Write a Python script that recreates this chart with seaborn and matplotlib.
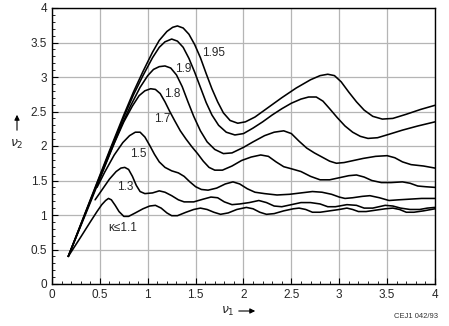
import matplotlib
matplotlib.use("Agg")
import matplotlib.pyplot as plt
import seaborn as sns
import pandas as pd
from matplotlib.ticker import MultipleLocator

# ---- data (nu1, nu2) ----
K11 = [(0.17,0.40),(0.30,0.68),(0.40,0.90),(0.47,1.05),(0.52,1.15),(0.56,1.21),(0.59,1.24),(0.62,1.22),
       (0.66,1.14),(0.70,1.05),(0.75,0.98),(0.80,0.98),(0.87,1.03),(0.95,1.09),(1.02,1.13),(1.08,1.14),
       (1.14,1.10),(1.20,1.03),(1.25,0.99),(1.31,0.99),(1.40,1.04),(1.48,1.08),(1.55,1.10),(1.62,1.08),
       (1.69,1.04),(1.76,1.01),(1.84,1.03),(1.93,1.08),(2.03,1.11),(2.10,1.09),(2.17,1.04),(2.24,1.01),
       (2.32,1.02),(2.42,1.06),(2.52,1.09),(2.58,1.10),(2.65,1.08),(2.72,1.04),(2.80,1.04),(2.90,1.06),
       (3.00,1.08),(3.08,1.10),(3.14,1.08),(3.20,1.05),(3.28,1.05),(3.38,1.07),(3.48,1.09),(3.56,1.10),
       (3.63,1.08),(3.70,1.04),(3.78,1.04),(3.88,1.06),(4.00,1.09)]
K13 = [(0.45,1.22),(0.52,1.36),(0.60,1.52),(0.67,1.63),(0.72,1.68),(0.76,1.69),(0.80,1.66),(0.84,1.56),
       (0.88,1.43),(0.92,1.34),(0.97,1.31),(1.05,1.32),(1.12,1.35),(1.18,1.33),(1.25,1.28),(1.32,1.22),
       (1.38,1.19),(1.48,1.19),(1.58,1.23),(1.66,1.26),(1.73,1.25),(1.80,1.19),(1.88,1.15),(1.96,1.16),
       (2.06,1.18),(2.16,1.21),(2.24,1.18),(2.32,1.13),(2.40,1.12),(2.50,1.15),(2.60,1.18),(2.70,1.18),
       (2.80,1.16),(2.88,1.12),(2.96,1.12),(3.08,1.15),(3.18,1.14),(3.26,1.10),(3.35,1.10),(3.48,1.14),
       (3.56,1.13),(3.64,1.10),(3.74,1.08),(3.84,1.08),(3.92,1.10),(4.00,1.11)]
K15 = [(0.47,1.40),(0.55,1.62),(0.65,1.87),(0.74,2.05),(0.81,2.15),(0.87,2.20),(0.92,2.20),(0.97,2.13),
       (1.02,2.01),(1.07,1.88),(1.12,1.77),(1.18,1.69),(1.25,1.64),(1.32,1.61),(1.38,1.56),(1.44,1.48),
       (1.50,1.41),(1.56,1.37),(1.63,1.36),(1.72,1.39),(1.81,1.45),(1.89,1.48),(1.96,1.45),(2.04,1.38),
       (2.12,1.33),(2.22,1.31),(2.35,1.29),(2.48,1.30),(2.60,1.32),(2.72,1.34),(2.82,1.33),(2.92,1.30),
       (3.00,1.26),(3.06,1.24),(3.14,1.25),(3.24,1.27),(3.32,1.28),(3.42,1.25),(3.52,1.21),(3.62,1.22),
       (3.74,1.23),(3.86,1.24),(4.00,1.24)]
K17 = [(0.17,0.40),(0.40,1.18),(0.55,1.70),(0.65,2.04),(0.75,2.35),(0.84,2.58),(0.91,2.73),(0.97,2.80),
       (1.03,2.83),(1.08,2.82),(1.13,2.76),(1.18,2.64),(1.23,2.50),(1.28,2.37),(1.34,2.22),(1.40,2.10),
       (1.46,1.99),(1.52,1.89),(1.58,1.78),(1.64,1.69),(1.70,1.65),(1.78,1.65),(1.88,1.71),(1.98,1.79),
       (2.08,1.84),(2.18,1.87),(2.26,1.85),(2.34,1.77),(2.42,1.70),(2.50,1.67),(2.60,1.63),(2.70,1.56),
       (2.80,1.51),(2.90,1.51),(3.00,1.54),(3.10,1.57),(3.18,1.58),(3.26,1.55),(3.34,1.50),(3.44,1.47),
       (3.54,1.47),(3.66,1.48),(3.74,1.46),(3.82,1.42),(3.90,1.41),(4.00,1.40)]
K18 = [(0.17,0.40),(0.40,1.20),(0.60,1.88),(0.72,2.28),(0.82,2.58),(0.92,2.85),(1.00,3.02),(1.06,3.11),
       (1.12,3.15),(1.18,3.16),(1.24,3.13),(1.30,3.03),(1.36,2.86),(1.42,2.64),(1.48,2.43),(1.55,2.22),
       (1.62,2.06),(1.70,1.95),(1.79,1.89),(1.88,1.90),(2.00,1.98),(2.10,2.06),(2.22,2.15),(2.32,2.20),
       (2.42,2.22),(2.50,2.18),(2.58,2.07),(2.66,1.97),(2.74,1.90),(2.82,1.84),(2.90,1.78),(2.97,1.75),
       (3.05,1.76),(3.15,1.79),(3.25,1.82),(3.38,1.85),(3.50,1.86),(3.58,1.83),(3.66,1.77),(3.75,1.73),
       (3.88,1.71),(4.00,1.68)]
K19 = [(0.17,0.40),(0.40,1.21),(0.60,1.91),(0.75,2.42),(0.85,2.74),(0.95,3.02),(1.05,3.28),(1.12,3.43),
       (1.18,3.51),(1.25,3.55),(1.31,3.52),(1.37,3.43),(1.43,3.27),(1.49,3.07),(1.55,2.85),(1.61,2.63),
       (1.67,2.45),(1.74,2.30),(1.82,2.20),(1.91,2.16),(2.00,2.18),(2.10,2.26),(2.20,2.35),(2.30,2.45),
       (2.40,2.54),(2.50,2.62),(2.60,2.68),(2.68,2.71),(2.76,2.71),(2.83,2.65),(2.90,2.54),(2.98,2.41),
       (3.06,2.29),(3.14,2.20),(3.22,2.14),(3.30,2.11),(3.40,2.12),(3.52,2.17),(3.66,2.23),(3.82,2.29),
       (4.00,2.35)]
K195 = [(0.17,0.40),(0.40,1.22),(0.60,1.93),(0.75,2.45),(0.85,2.78),(0.95,3.08),(1.05,3.36),(1.12,3.53),
        (1.20,3.66),(1.26,3.72),(1.31,3.74),(1.37,3.71),(1.43,3.62),(1.49,3.47),(1.55,3.28),(1.61,3.05),
        (1.67,2.83),(1.73,2.64),(1.79,2.48),(1.86,2.37),(1.94,2.33),(2.02,2.35),(2.12,2.42),(2.25,2.55),
        (2.40,2.70),(2.55,2.84),(2.70,2.96),(2.80,3.02),(2.88,3.04),(2.95,3.02),(3.02,2.93),(3.10,2.78),
        (3.18,2.64),(3.26,2.52),(3.35,2.43),(3.45,2.39),(3.56,2.40),(3.70,2.46),(3.85,2.53),(4.00,2.59)]

CURVE_NAMES = ["κ≤1.1", "1.3", "1.5", "1.7", "1.8", "1.9", "1.95"]
CURVES = [K11, K13, K15, K17, K18, K19, K195]
LABEL_POS = [(0.74, 0.81), (0.76, 1.40), (0.90, 1.88), (1.15, 2.39),
             (1.26, 2.75), (1.37, 3.12), (1.69, 3.35)]
TICKS = [0, 0.5, 1, 1.5, 2, 2.5, 3, 3.5, 4]
TICK_LABELS = ["0", "0.5", "1", "1.5", "2", "2.5", "3", "3.5", "4"]

rows = []
for name, pts in zip(CURVE_NAMES, CURVES):
    for i, (x, y) in enumerate(pts):
        rows.append({"kappa": name, "order": i, "nu1": x, "nu2": y})
df = pd.DataFrame(rows)

sns.set_style("ticks")
plt.rcParams["font.family"] = ["Liberation Sans", "DejaVu Sans"]

fig = plt.figure(figsize=(4.49, 3.26), dpi=100)
ax = fig.add_axes([52/449, 1-284/326, (435-52)/449, (284-8)/326])

for name in CURVE_NAMES:
    sub = df[df["kappa"] == name]
    sns.lineplot(data=sub, x="nu1", y="nu2", sort=False, estimator=None,
                 color="black", lw=1.15, ax=ax)

ax.set_xlim(0, 4)
ax.set_ylim(0, 4)
ax.set_xticks(TICKS)
ax.set_xticklabels(TICK_LABELS)
ax.set_yticks(TICKS)
ax.set_yticklabels(TICK_LABELS)
ax.xaxis.set_minor_locator(MultipleLocator(0.1))
ax.yaxis.set_minor_locator(MultipleLocator(0.1))
ax.tick_params(which="both", direction="in", labelsize=8.5, color="black")
ax.tick_params(which="major", length=4, width=0.8, pad=3.5)
ax.tick_params(which="minor", length=2.5, width=0.6)
ax.grid(True, which="major", color="#b5b5b5", lw=0.9)
for s in ax.spines.values():
    s.set_color("black")
    s.set_linewidth(1.0)
ax.set_xlabel("")
ax.set_ylabel("")

for name, (lx, ly) in zip(CURVE_NAMES, LABEL_POS):
    ax.text(lx, ly, name, ha="center", va="center", fontsize=8.5)

# axis labels with arrows (figure pixel coordinates)
fig.text(17/449, 1-144/326, r"$\nu_2$", ha="center", va="center", fontsize=9)
fig.add_artist(matplotlib.patches.FancyArrowPatch((17/449, 1-133/326), (17/449, 1-112/326),
               transform=fig.transFigure, arrowstyle="-|>,head_length=3,head_width=1.5",
               color="black", lw=0.8))
fig.text(228/449, 1-311/326, r"$\nu_1$", ha="center", va="center", fontsize=9)
fig.add_artist(matplotlib.patches.FancyArrowPatch((236/449, 1-311/326), (258/449, 1-311/326),
               transform=fig.transFigure, arrowstyle="-|>,head_length=3,head_width=1.5",
               color="black", lw=0.8))
fig.text(438/449, 1-316/326, "CEJ1 042/93", ha="right", va="center", fontsize=5.5, color="#333333")

fig.savefig("out.png", dpi=100)
